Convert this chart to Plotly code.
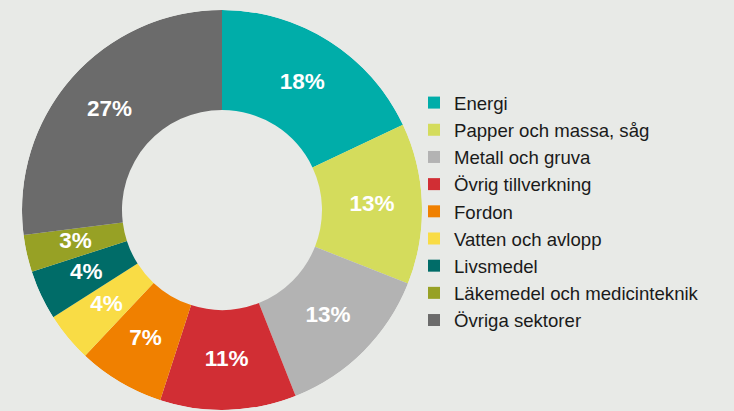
import plotly.graph_objects as go

labels = ["Energi", "Papper och massa, såg", "Metall och gruva", "Övrig tillverkning",
          "Fordon", "Vatten och avlopp", "Livsmedel", "Läkemedel och medicinteknik",
          "Övriga sektorer"]
values = [18, 13, 13, 11, 7, 4, 4, 3, 27]
colors = ["#00ada9", "#d4dc5c", "#b3b3b3", "#d12e34", "#f08000", "#f9dc45",
          "#006c68", "#97a125", "#6b6b6b"]

W, H = 734, 411
cx, cy, R = 222, 210, 200
r_in, r_out = 100, 200
dom = dict(x=[(cx - R) / W, (cx + R) / W], y=[(H - cy - R) / H, (H - cy + R) / H])

total = sum(values)
mid_theta = []
acc = 0
for v in values:
    mid_theta.append((acc + v / 2) / total * 360)
    acc += v

fig = go.Figure()
for lab, v, c, th in zip(labels, values, colors, mid_theta):
    fig.add_trace(go.Barpolar(
        r=[r_out - r_in], base=[r_in], theta=[th], width=[v / total * 360],
        name=lab, marker=dict(color=c, line=dict(width=0)),
    ))
fig.add_trace(go.Scatterpolar(
    r=[(r_in + r_out) / 2] * len(values), theta=mid_theta, mode="text",
    text=[f"{v}%" for v in values], showlegend=False, hoverinfo="skip",
    textfont=dict(family="Liberation Sans", size=22.5, color="white", weight="bold"),
))
fig.update_layout(
    width=W, height=H, margin=dict(l=0, r=0, t=0, b=0),
    paper_bgcolor="#e8eae7", plot_bgcolor="#e8eae7",
    polar=dict(domain=dom, bgcolor="rgba(0,0,0,0)", bargap=0,
               radialaxis=dict(range=[0, r_out], visible=False),
               angularaxis=dict(direction="clockwise", rotation=90, visible=False)),
    legend=dict(x=414 / W, xanchor="left", y=(H - 84) / H, yanchor="top",
                font=dict(family="Liberation Sans", size=18.6, color="#1a1a1a"),
                bgcolor="rgba(0,0,0,0)", traceorder="normal"),
    showlegend=True,
)
fig.write_html("out.html", config={"displayModeBar": False},
               post_script="document.body.style.margin='0';document.body.style.background='#e8eae7';")
